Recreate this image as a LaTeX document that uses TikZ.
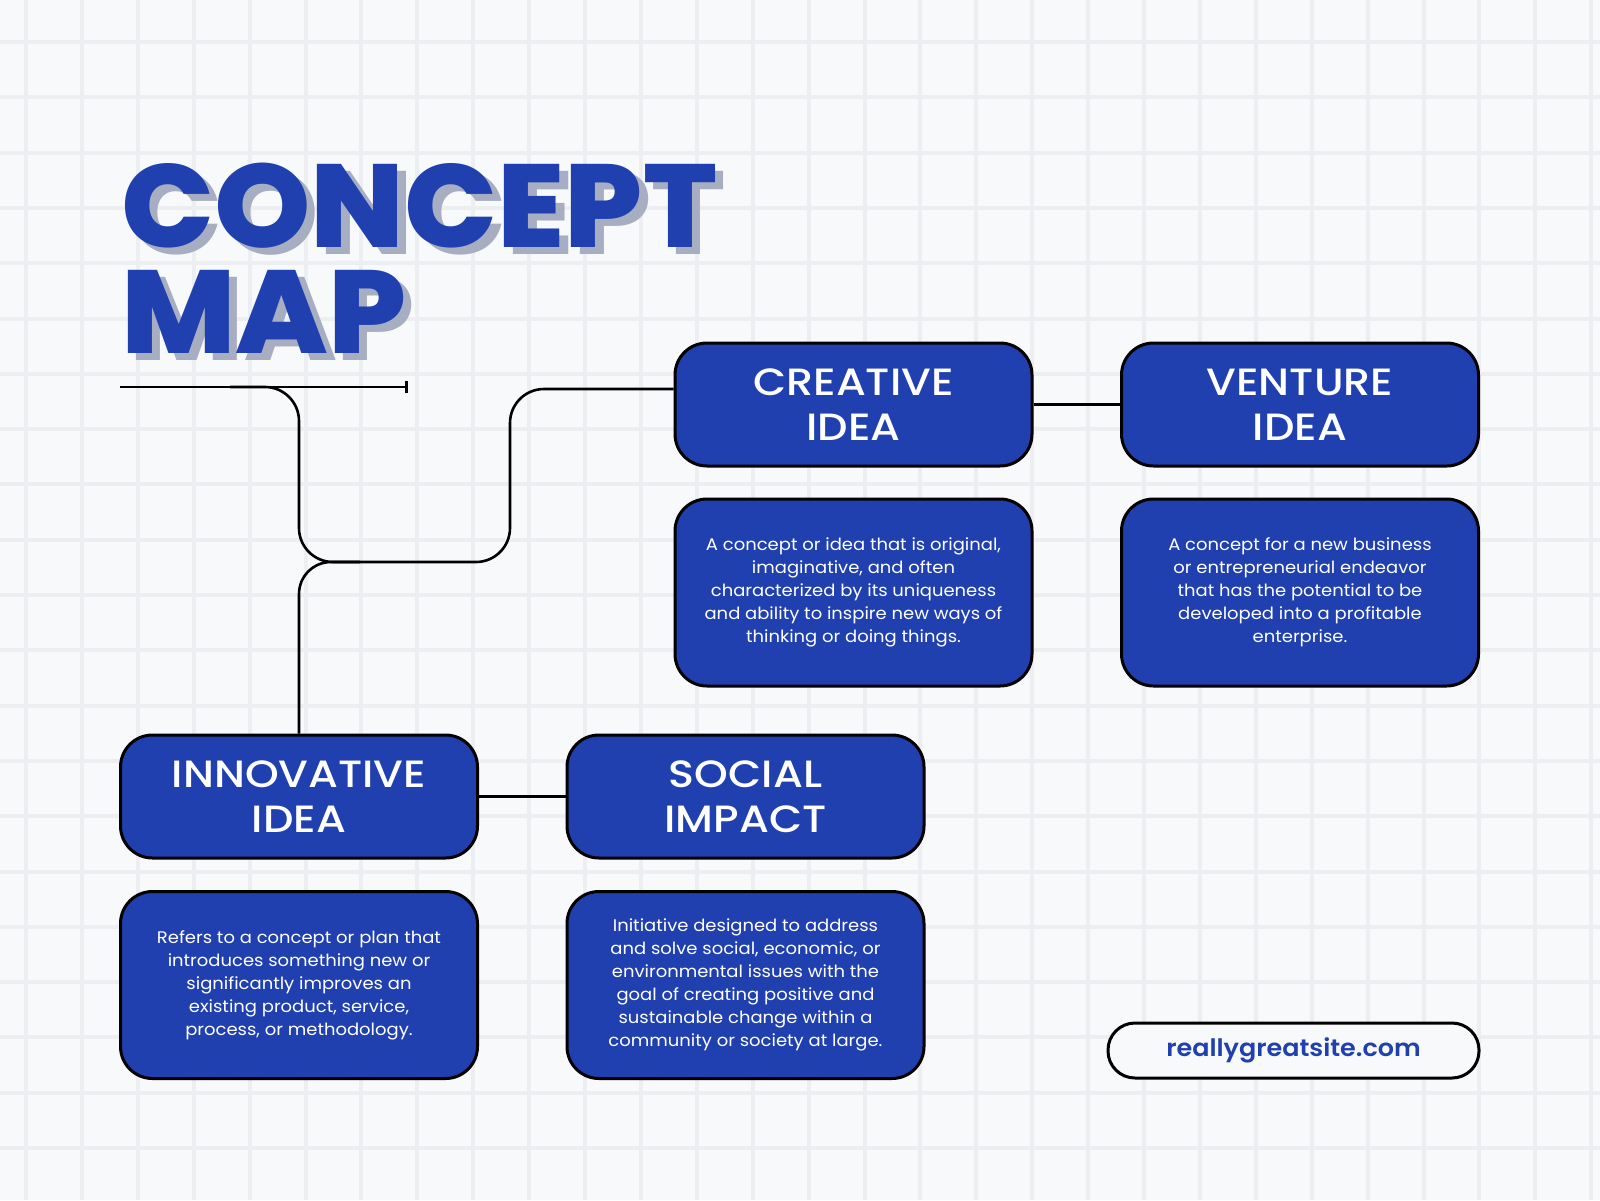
\documentclass[tikz,border=0pt]{standalone}
\usepackage{fontspec}
\setmainfont{Poppins}[FakeStretch=1.07]
\newfontfamily\titlefont{Poppins ExtraBold}
\newfontfamily\headfont{Poppins Medium}[FakeStretch=1.13]
\newfontfamily\urlfont{Poppins SemiBold}[FakeStretch=1.06]
\usetikzlibrary{arrows.meta}
\definecolor{bg}{HTML}{F8F9FB}
\definecolor{gridc}{HTML}{ECEEF2}
\definecolor{boxblue}{HTML}{1F40AE}
\definecolor{shadowc}{HTML}{A8AEC1}
\newcommand{\shadowtitle}[1]{\rlap{\hspace{8pt}\raisebox{-7pt}{\textcolor{shadowc}{#1}}}\textcolor{boxblue}{#1}}
\tikzset{
  headbox/.style={draw=black, line width=3pt, fill=boxblue, rounded corners=32pt,
    minimum width=357pt, minimum height=123pt, text=white, align=center,
    font=\headfont\fontsize{38}{45}\selectfont, inner sep=0pt},
  descbox/.style={draw=black, line width=3pt, fill=boxblue, rounded corners=32pt,
    minimum width=357pt, minimum height=187pt, text=white, align=center,
    font=\fontsize{16.8}{23}\selectfont, inner sep=0pt},
  urlbox/.style={draw=black, line width=3pt, fill=bg, rounded corners=27pt,
    minimum width=371pt, minimum height=55pt, text=boxblue,
    font=\urlfont\fontsize{24}{28}\selectfont, inner sep=0pt},
  conn/.style={draw=black, line width=2.6pt},
  titletxt/.style={anchor=base west, inner sep=0pt, align=left,
    font=\titlefont\fontsize{118}{106}\selectfont},
}
\begin{document}
\begin{tikzpicture}[x=1pt,y=-1pt]
\useasboundingbox (0,0) rectangle (1600,1200);
\fill[bg] (0,0) rectangle (1600,1200);
\foreach \i in {0,...,28} {
  \draw[gridc, line width=4pt] ({26+55.9*\i},0) -- ({26+55.9*\i},1200);
}
\foreach \j in {0,...,21} {
  \draw[gridc, line width=4pt] (0,{42+55.3*\j}) -- (1600,{42+55.3*\j});
}
% title (last line's baseline at y=353)
\node[titletxt] (title) at (121,353) {\scalebox{1.04}[1]{\shadowtitle{CONCEPT}}\\\scalebox{1.04}[1]{\shadowtitle{MAP}}};
% boxes
\node[headbox] (cre) at (853.5,404.5) {CREATIVE\\IDEA};
\node[headbox] (ven) at (1300,404.5) {VENTURE\\IDEA};
\node[headbox] (inn) at (299,796.5) {INNOVATIVE\\IDEA};
\node[headbox] (soc) at (745.5,796.5) {SOCIAL\\IMPACT};
\node[descbox] (cred) at (853.5,592.5) {A concept or idea that is original,\\imaginative, and often\\characterized by its uniqueness\\and ability to inspire new ways of\\thinking or doing things.};
\node[descbox] (vend) at (1300,592.5) {A concept for a new business\\or entrepreneurial endeavor\\that has the potential to be\\developed into a profitable\\enterprise.};
\node[descbox] (innd) at (299,985) {Refers to a concept or plan that\\introduces something new or\\significantly improves an\\existing product, service,\\process, or methodology.};
\node[descbox] (socd) at (745.5,985) {Initiative designed to address\\and solve social, economic, or\\environmental issues with the\\goal of creating positive and\\sustainable change within a\\community or society at large.};
\node[urlbox] (url) at (1293.5,1050.5) {reallygreatsite.com};
% connectors
\coordinate (ul1) at (120,387);
\coordinate (ul2) at (408,387);
\coordinate (j1) at (299,562);
\draw[conn, -{Bar[width=12pt,line width=2.6pt]}] (ul1) -- (ul2);
\draw[conn, rounded corners=34pt] (230,387) -- (299,387) -- (j1) -- (510,562) -- (510,389) -- ([yshift=15.5pt]cre.west);
\draw[conn, rounded corners=32pt] (inn.north) -- (j1) -- (360,562);
\draw[conn] (cre.east) -- (ven.west);
\draw[conn] (inn.east) -- (soc.west);
\end{tikzpicture}
\end{document}
